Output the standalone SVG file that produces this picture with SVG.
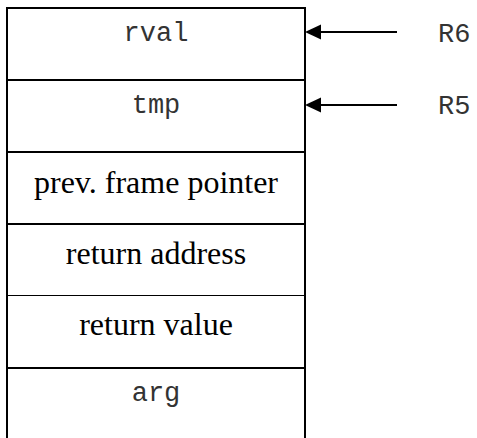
<svg xmlns="http://www.w3.org/2000/svg" width="477" height="438" viewBox="0 0 477 438">
<defs>
<style>
.box{fill:#fff;stroke:#000;stroke-width:2}
.div{stroke:#000;stroke-width:2}
.thin{stroke:#000;stroke-width:1}
.mono{font-family:"Liberation Mono","Courier New",monospace;font-size:27px;fill:#333}
.serif{font-family:"Liberation Serif","Times New Roman",serif;font-size:32px;fill:#000}
.conn{stroke:#000;stroke-width:2;fill:none}
</style>
</defs>
<rect x="0" y="0" width="477" height="438" fill="#fff"/>
<g id="stack">
<path class="box" d="M7,440 L7,8 L305,8 L305,440"/>
<line class="div" x1="7" y1="80" x2="305" y2="80"/>
<line class="div" x1="7" y1="152" x2="305" y2="152"/>
<line class="div" x1="7" y1="224" x2="305" y2="224"/>
<line class="thin" x1="7" y1="295.5" x2="305" y2="295.5"/>
<line class="div" x1="7" y1="368" x2="305" y2="368"/>
</g>
<g id="cell-rval"><text class="mono" x="156" y="41" text-anchor="middle">rval</text></g>
<g id="cell-tmp"><text class="mono" x="156" y="113" text-anchor="middle">tmp</text></g>
<g id="cell-pfp"><text class="serif" x="156" y="193" text-anchor="middle">prev. frame pointer</text></g>
<g id="cell-ra"><text class="serif" x="156" y="264" text-anchor="middle">return address</text></g>
<g id="cell-rv"><text class="serif" x="156" y="335" text-anchor="middle">return value</text></g>
<g id="cell-arg"><text class="mono" x="156" y="401" text-anchor="middle">arg</text></g>
<g id="label-R6"><text class="mono" x="438" y="42">R6</text></g>
<g id="label-R5"><text class="mono" x="438" y="114">R5</text></g>
<g id="connectors">
<line class="conn" x1="397" y1="32" x2="321" y2="32"/>
<path d="M305,32 L321,24.5 L321,39.5 Z" fill="#000"/>
<line class="conn" x1="397" y1="105" x2="321" y2="105"/>
<path d="M305,105 L321,97.5 L321,112.5 Z" fill="#000"/>
</g>
</svg>
